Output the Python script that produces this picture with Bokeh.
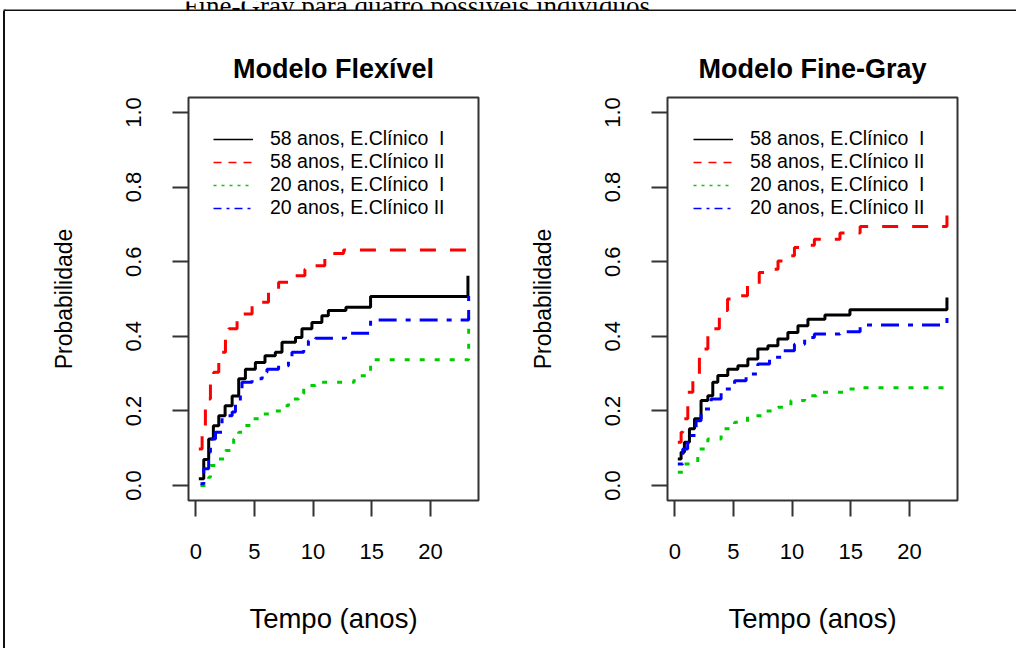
import numpy as np
from bokeh.plotting import figure
from bokeh.layouts import row, column
from bokeh.models import Range1d, FixedTicker, PrintfTickFormatter, Legend, LegendItem, Spacer
from bokeh.embed import file_html
from bokeh.resources import INLINE
from bokeh.core.properties import value

# ---------------- texts ----------------
CAPTION = "Fine-Gray para quatro possíveis indivíduos"
PANEL_TITLES = ["Modelo Flexível", "Modelo Fine-Gray"]
X_LABEL = "Tempo (anos)"
Y_LABEL = "Probabilidade"
SERIES_LABELS = ["58 anos, E.Clínico  I", "58 anos, E.Clínico II",
                 "20 anos, E.Clínico  I", "20 anos, E.Clínico II"]
X_TICKS = [0, 5, 10, 15, 20]
Y_TICKS = [0.0, 0.2, 0.4, 0.6, 0.8, 1.0]

# ---------------- data: Modelo Flexível ----------------
flex_t_58_I = [0.26, 0.68, 1.1, 1.5, 1.96, 2.5, 3.1, 3.66, 4.23, 5.08, 5.9, 6.78, 7.35, 8.5, 9.05, 9.9, 10.75, 11.3, 12.8, 14.9, 23.2]
flex_y_58_I = [0.018, 0.07, 0.125, 0.16, 0.187, 0.214, 0.24, 0.286, 0.312, 0.33, 0.348, 0.357, 0.384, 0.397, 0.42, 0.437, 0.455, 0.469, 0.478, 0.507, 0.562]

flex_t_58_II = [0.26, 0.54, 0.82, 1.25, 1.53, 1.96, 2.53, 2.81, 3.52, 4.8, 5.36, 6.2, 7.06, 7.9, 9.3, 9.6, 11.0, 11.1, 12.6, 23.2]
flex_y_58_II = [0.098, 0.16, 0.232, 0.286, 0.304, 0.357, 0.40, 0.42, 0.46, 0.482, 0.491, 0.527, 0.545, 0.562, 0.58, 0.589, 0.616, 0.622, 0.631, 0.631]

flex_t_20_I = [0.4, 1.1, 1.25, 1.68, 2.53, 3.1, 3.23, 3.66, 4.09, 4.8, 5.66, 6.5, 7.35, 7.9, 8.77, 9.2, 10.2, 13.5, 14.9, 23.26]
flex_y_20_I = [0.0, 0.022, 0.054, 0.071, 0.094, 0.103, 0.125, 0.143, 0.161, 0.179, 0.192, 0.2, 0.214, 0.232, 0.246, 0.268, 0.277, 0.294, 0.337, 0.451]

flex_t_20_II = [0.4, 0.68, 1.1, 1.25, 1.68, 2.24, 3.1, 3.38, 3.8, 3.94, 4.8, 5.66, 6.07, 7.06, 7.9, 8.2, 9.2, 9.6, 10.2, 12.77, 13.2, 14.9, 23.26]
flex_y_20_II = [0.005, 0.045, 0.089, 0.125, 0.143, 0.187, 0.197, 0.223, 0.259, 0.277, 0.286, 0.304, 0.312, 0.321, 0.339, 0.357, 0.366, 0.388, 0.395, 0.402, 0.408, 0.444, 0.513]

# ---------------- data: Modelo Fine-Gray ----------------
fg_t_58_I = [0.26, 0.54, 0.82, 1.25, 1.68, 2.24, 2.82, 3.24, 3.67, 4.52, 5.38, 6.23, 7.08, 7.94, 8.79, 9.64, 10.5, 11.35, 12.8, 14.93, 23.2]
fg_y_58_I = [0.071, 0.089, 0.116, 0.152, 0.179, 0.228, 0.241, 0.277, 0.295, 0.312, 0.321, 0.339, 0.366, 0.375, 0.393, 0.41, 0.428, 0.446, 0.457, 0.471, 0.504]

fg_t_58_II = [0.26, 0.54, 0.68, 1.11, 1.54, 2.1, 2.82, 3.8, 4.5, 5.2, 6.2, 7.2, 7.9, 8.8, 9.5, 10.2, 11.07, 11.9, 14.08, 15.8, 23.2]
fg_y_58_II = [0.116, 0.143, 0.179, 0.25, 0.295, 0.366, 0.42, 0.469, 0.5, 0.509, 0.535, 0.571, 0.58, 0.602, 0.616, 0.638, 0.644, 0.66, 0.677, 0.694, 0.727]

fg_t_20_I = [0.26, 0.83, 1.96, 2.82, 3.95, 5.1, 6.2, 7.65, 8.8, 9.9, 11.07, 12.06, 14.65, 15.8, 23.3]
fg_y_20_I = [0.036, 0.058, 0.098, 0.125, 0.152, 0.17, 0.187, 0.2, 0.21, 0.228, 0.241, 0.25, 0.259, 0.262, 0.262]

fg_t_20_II = [0.26, 0.68, 1.1, 1.82, 2.24, 3.1, 3.95, 5.1, 6.08, 7.08, 8.08, 9.22, 10.2, 11.07, 11.9, 14.08, 15.8, 23.2]
fg_y_20_II = [0.058, 0.098, 0.134, 0.174, 0.205, 0.232, 0.259, 0.281, 0.299, 0.326, 0.344, 0.361, 0.379, 0.397, 0.406, 0.412, 0.43, 0.46]

# ---------------- styles ----------------
COLORS = ["#000000", "#FF0000", "#00CD00", "#0000FF"]
DASHES = ["solid", "16 14", "5 10", "5 9 18 9"]
LEG_DASHES = ["solid", "8 7", "3 5", "8 5 3 5"]
SANS = "Liberation Sans"
FRAME_COL = "#333333"

PAGE_H = 648
STRIP_H = 11
PANEL_H = PAGE_H - STRIP_H


def make_panel(title, series, width, mbl, mbr, leg_x):
    p = figure(width=width, height=PANEL_H,
               x_range=Range1d(-0.62, 24.1), y_range=Range1d(-0.04, 1.04),
               output_backend="svg", toolbar_location=None, tools="",
               min_border_left=mbl, min_border_right=mbr,
               min_border_top=86, min_border_bottom=148)
    p.title.text = title
    p.title.align = "center"
    p.title.text_font = SANS
    p.title.text_font_size = "27px"
    p.title.text_font_style = "bold"
    p.title.text_color = "#000000"
    p.title.standoff = 27
    p.grid.visible = False
    p.outline_line_color = FRAME_COL
    p.outline_line_width = 2
    p.background_fill_color = "white"
    p.border_fill_color = "white"

    for ax in (p.xaxis[0], p.yaxis[0]):
        ax.axis_line_color = None
        ax.major_tick_out = 16
        ax.major_tick_in = 0
        ax.major_tick_line_color = FRAME_COL
        ax.major_tick_line_width = 2
        ax.minor_tick_line_color = None
        ax.major_label_text_font = SANS
        ax.major_label_text_font_size = "22px"
        ax.major_label_text_color = "#000000"
        ax.axis_label_text_font = SANS
        ax.axis_label_text_font_style = "normal"
        ax.axis_label_text_color = "#000000"

    p.xaxis.ticker = FixedTicker(ticks=X_TICKS)
    p.yaxis.ticker = FixedTicker(ticks=Y_TICKS)
    p.yaxis.formatter = PrintfTickFormatter(format="%.1f")
    p.yaxis.major_label_orientation = "vertical"
    p.xaxis.axis_label = X_LABEL
    p.yaxis.axis_label = Y_LABEL
    p.xaxis.axis_label_text_font_size = "27.5px"
    p.yaxis.axis_label_text_font_size = "23px"
    p.xaxis.major_label_standoff = 27
    p.xaxis.axis_label_standoff = 41
    p.yaxis.major_label_standoff = 31
    p.yaxis.axis_label_standoff = 47

    for (t, y), col, dash in zip(series, COLORS, DASHES):
        p.step(x=t, y=y, mode="after", line_color=col, line_width=3, line_dash=dash)

    # legend keys: thin lines (kept outside the visible ranges)
    items = []
    for lab, col, dash in zip(SERIES_LABELS, COLORS, LEG_DASHES):
        r = p.line(x=[-50, -40], y=[-50, -50], line_color=col, line_width=1.5, line_dash=dash)
        items.append(LegendItem(label=lab, renderers=[r]))
    leg = Legend(items=items, location=(leg_x, 281))
    leg.border_line_color = None
    leg.background_fill_alpha = 0
    leg.padding = 0
    leg.margin = 0
    leg.spacing = 0
    leg.glyph_width = 40
    leg.glyph_height = 22
    leg.label_height = 22
    leg.label_standoff = 17
    leg.label_text_font = SANS
    leg.label_text_font_size = "19.5px"
    leg.label_text_color = "#000000"
    p.add_layout(leg)
    return p


p1 = make_panel(PANEL_TITLES[0],
                [(flex_t_58_I, flex_y_58_I), (flex_t_58_II, flex_y_58_II),
                 (flex_t_20_I, flex_y_20_I), (flex_t_20_II, flex_y_20_II)],
                width=504, mbl=182, mbr=32, leg_x=25)
p2 = make_panel(PANEL_TITLES[1],
                [(fg_t_58_I, fg_y_58_I), (fg_t_58_II, fg_y_58_II),
                 (fg_t_20_I, fg_y_20_I), (fg_t_20_II, fg_y_20_II)],
                width=506, mbl=157, mbr=59, leg_x=26)

# top strip: (cut-off) document caption and the frame's top border
top = figure(width=1016, height=STRIP_H, x_range=Range1d(0, 1016), y_range=Range1d(STRIP_H, 0),
             output_backend="svg", toolbar_location=None, tools="",
             x_axis_location=None, y_axis_location=None, min_border=0)
top.grid.visible = False
top.outline_line_color = None
top.text(x=[183], y=[4], text=[CAPTION], text_font=value("Liberation Serif"),
         text_font_size="27px", text_baseline="alphabetic", text_color="#000000")
top.segment(x0=[4], y0=[9], x1=[1016], y1=[9], line_width=2, line_color="#111111")
top.segment(x0=[4], y0=[8], x1=[4], y1=[STRIP_H], line_width=2, line_color="#111111")

# left border of the document frame
border_left = [Spacer(width=3, height=PANEL_H),
               Spacer(width=2, height=PANEL_H, styles={"background-color": "#111111"}),
               Spacer(width=1, height=PANEL_H)]

layout = column(top, row(*border_left, p1, p2))
open("out.html", "w").write(file_html(layout, INLINE))
